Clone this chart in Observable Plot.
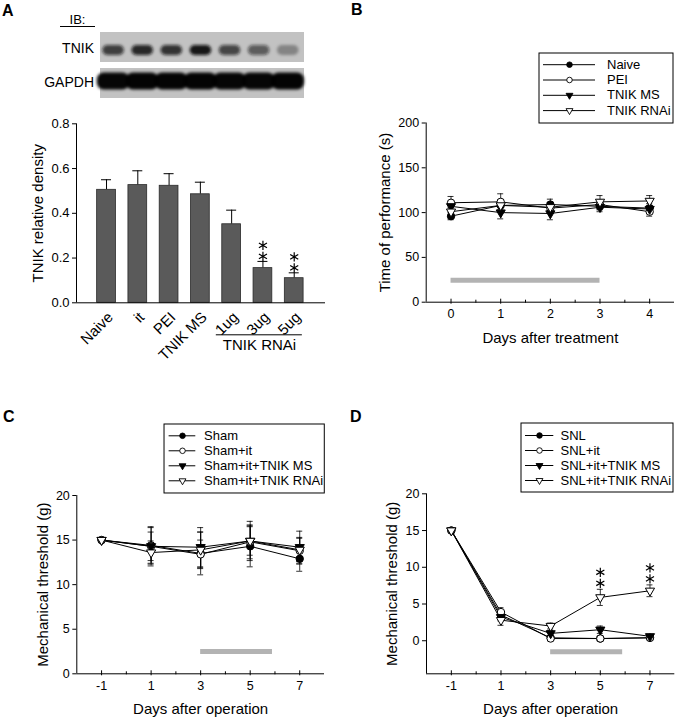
<!DOCTYPE html>
<html><head><meta charset="utf-8">
<script src="https://cdn.jsdelivr.net/npm/d3@7"></script>
<script src="https://cdn.jsdelivr.net/npm/@observablehq/plot@0.6"></script>
<style>
body{margin:0;background:#fff;font-family:Arial,"Liberation Sans",sans-serif;}
#fig{position:relative;width:680px;height:719px;overflow:hidden;background:#fff;}
#fig>svg{position:absolute;}
</style></head><body><div id="fig"></div>
<script>
// ---------- Panel A data ----------
const laneLabels = ["Naive","it","PEI","TNIK MS","1ug","3ug","5ug"];
const densityMean = [0.505,0.526,0.523,0.485,0.351,0.155,0.110];
const densityErr  = [0.045,0.064,0.054,0.054,0.063,0.030,0.024];
const densityStars = [0,0,0,0,0,2,2];
const tnikBand  = [0.74,0.86,0.80,0.95,0.70,0.58,0.32];
const gapdhBand = [0.97,0.98,0.98,0.98,0.97,0.97,0.98];
const yTicksA = [0,0.2,0.4,0.6,0.8];

// ---------- Panel B data ----------
const daysB = [0,1,2,3,4];
const namesB = ["Naive","PEI","TNIK MS","TNIK RNAi"];
const naiveB = [96,108,109,107,105];
const naiveBErr = [4,5,6,4,5];
const peiB = [111,112,105,109,101];
const peiBErr = [7,9,6,5,5];
const msB = [107,100,99,106,104];
const msBErr = [5,7,7,5,4];
const rnaiB = [101,108,106,112,113];
const rnaiBErr = [5,6,5,7,6];
const xTicksB = [0,1,2,3,4];
const yTicksB = [0,50,100,150,200];
const treatB = [0,3];

// ---------- Panel C data ----------
const daysCD = [-1,1,3,5,7];
const namesC = ["Sham","Sham+it","Sham+it+TNIK MS","Sham+it+TNIK RNAi"];
const shamC = [15,14.4,13.5,14.3,12.9];
const shamCErr = [0,2.0,2.4,2.3,1.4];
const shamItC = [15,14.3,13.4,14.8,13.8];
const shamItCErr = [0,1.6,1.6,1.9,1.5];
const msC = [15,14.3,14.2,14.9,14.2];
const msCErr = [0,2.2,2.2,2.2,1.8];
const rnaiC = [15,13.6,13.9,14.9,13.9];
const rnaiCErr = [0,1.3,2.0,1.6,1.3];
const xTicksCD = [-1,1,3,5,7];
const yTicksCD = [0,5,10,15,20];
const treatCD = [3,5.9];

// ---------- Panel D data ----------
const namesD = ["SNL","SNL+it","SNL+it+TNIK MS","SNL+it+TNIK RNAi"];
const snlD = [15,3.5,0.4,0.3,0.4];
const snlDErr = [0,0.5,0.3,0.3,0.2];
const snlItD = [15,3.9,0.3,0.3,0.4];
const snlItDErr = [0,0.6,0.3,0.3,0.2];
const msD = [15,3.2,1.0,1.5,0.6];
const msDErr = [0,0.5,0.4,0.5,0.2];
const rnaiD = [15,2.8,2.0,5.9,6.8];
const rnaiDErr = [0,0.7,0.4,1.1,0.8];

// ---------- helpers ----------
const fig = document.getElementById("fig");
const FONT = "Arial, 'Liberation Sans', sans-serif";
function place(node, left, top){ node.style.position="absolute"; node.style.left=left+"px"; node.style.top=top+"px"; fig.appendChild(node); }
const baseStyle = {fontFamily: FONT, fontSize: "12.5px", color: "black", background: "transparent", overflow: "visible"};
const markerStyles = [
  {symbol:"circle", fill:"black", r:3.7, rotate:0},
  {symbol:"circle", fill:"white", r:3.7, rotate:0},
  {symbol:"triangle", fill:"black", r:3.4, rotate:180},
  {symbol:"triangle", fill:"white", r:3.4, rotate:180}
];
const plain = d => String(d);

// ---------- Blot ----------
const lanes = laneLabels.map((n,i)=>({i, t: tnikBand[i], g: gapdhBand[i]}));
const blot = Plot.plot({
  width: 204, height: 66, margin: 0, style: baseStyle,
  x: {domain: [-0.45, 6.56], axis: null},
  y: {domain: [0, 66], range: [0, 66], axis: null},
  opacity: {type: "identity"},
  marks: [
    Plot.rect([0, 1], {x1: -0.45, x2: 6.56, y1: d => d === 0 ? 0 : 36, y2: d => d === 0 ? 30 : 66, fill: "#c2c2c2"}),
    Plot.rect(lanes, {x1: d => d.i - 0.37, x2: d => d.i + 0.37, y1: 13, y2: 23, rx: 5, fill: "#101010", fillOpacity: "t"}),
    Plot.rect(lanes, {x1: d => d.i - 0.56, x2: d => d.i + 0.56, y1: 40.5, y2: 57.5, rx: 7, fill: "#050505", fillOpacity: "g"})
  ]
});
{
  const s = d3.select(blot);
  s.append("defs").append("filter").attr("id","blotblur").attr("x","-20%").attr("y","-50%").attr("width","140%").attr("height","200%")
    .append("feGaussianBlur").attr("stdDeviation", 1.8);
  const groups = blot.querySelectorAll('g[aria-label="rect"]');
  if (groups[1]) groups[1].setAttribute("filter","url(#blotblur)");
  if (groups[2]) groups[2].setAttribute("filter","url(#blotblur)");
}
place(blot, 100, 32);

// ---------- Bar chart A ----------
const barRows = laneLabels.map((name,i)=>({i, name, v: densityMean[i], e: densityErr[i], s: densityStars[i]}));
const starRowsA = barRows.flatMap(d => d3.range(d.s).map(m => ({i: d.i, y: d.v + d.e, m})));
const barA = Plot.plot({
  width: 340, height: 250, marginLeft: 76, marginRight: 15, marginTop: 13.3, marginBottom: 57.7,
  style: baseStyle,
  x: {domain: [-0.96, 7.0], axis: null},
  y: {domain: [0, 0.8]},
  marks: [
    Plot.ruleX(barRows, {x: "i", y1: "v", y2: d => d.v + d.e, stroke: "black", strokeWidth: 1}),
    Plot.ruleY(barRows, {y: d => d.v + d.e, x1: "i", x2: "i", insetLeft: -5, insetRight: -5, stroke: "black", strokeWidth: 1}),
    Plot.rect(barRows, {x1: d => d.i - 0.3, x2: d => d.i + 0.3, y1: 0, y2: "v", fill: "#5a5a5a", stroke: "#2a2a2a", strokeWidth: 0.8}),
    Plot.axisY({ticks: yTicksA, tickFormat: d3.format(".1f"), tickSize: 4, tickPadding: 3, fontSize: 13, label: null}),
    Plot.ruleX([-0.96], {y1: 0, y2: 0.8, stroke: "black"}),
    Plot.ruleY([0], {stroke: "black"}),
    Plot.text(barRows, {x: "i", y: 0, text: "name", rotate: -45, textAnchor: "end", lineAnchor: "middle", dx: 4, dy: 12, fontSize: 15}),
    Plot.ruleY([0], {x1: 3.51, x2: 6.26, dy: 32, stroke: "black"}),
    Plot.text(["TNIK RNAi"], {x: 4.89, y: 0, dy: 42, fontSize: 15, lineAnchor: "middle"}),
    ...[0,1].map(m => Plot.dot(starRowsA.filter(d => d.m === m), {x: "i", y: "y", symbol: "asterisk", r: 4.4, stroke: "black", strokeWidth: 1.2, dy: -5 - 11 * m})),
    Plot.text(["TNIK relative density"], {frameAnchor: "left", rotate: -90, textAnchor: "middle", lineAnchor: "middle", dx: -38.5, fontSize: 15})
  ]
});
place(barA, 0, 110);

// ---------- Line panels ----------
function linePanel(cfg){
  const rows = [];
  cfg.series.forEach((vals, k) => vals.forEach((v, j) => rows.push({k, x: cfg.days[j], y: v, e: cfg.errs[k][j]})));
  const eb = rows.filter(d => d.e > 0);
  const [x0] = cfg.xDomain; const [y0] = cfg.yDomain;
  const yTop = cfg.yTicks[cfg.yTicks.length - 1];
  const stars = (cfg.stars || []).flatMap(s => {
    const r = rows.find(d => d.k === s.k && d.x === s.x);
    return d3.range(s.n).map(m => ({x: s.x, y: r.y + r.e, m}));
  });
  const marks = [
    Plot.ruleY([cfg.bar.y], {x1: cfg.bar.x1, x2: cfg.bar.x2, stroke: "#b3b3b3", strokeWidth: 5}),
    Plot.ruleX([x0], {y1: y0, y2: yTop, stroke: "black"}),
    Plot.ruleY([y0], {stroke: "black"}),
    Plot.ruleX(cfg.xTicks, {y1: y0, y2: y0, insetTop: -3, insetBottom: -2, stroke: "black"}),
    Plot.ruleX(cfg.xMinor, {y1: y0, y2: y0, insetTop: -2, insetBottom: -1, stroke: "black"}),
    Plot.axisX({ticks: cfg.xTicks, tickFormat: plain, tickSize: 0, tickPadding: 7, fontSize: 12.5, label: null}),
    Plot.axisY({ticks: cfg.yTicks, tickFormat: plain, tickSize: 4, tickPadding: 3, fontSize: 12.5, label: null}),
    Plot.ruleX(eb, {x: "x", y1: d => d.y - d.e, y2: d => d.y + d.e, stroke: "black", strokeWidth: 0.8}),
    Plot.ruleY(eb, {y: d => d.y + d.e, x1: "x", x2: "x", insetLeft: -3, insetRight: -3, stroke: "black", strokeWidth: 0.8}),
    Plot.ruleY(eb, {y: d => d.y - d.e, x1: "x", x2: "x", insetLeft: -3, insetRight: -3, stroke: "black", strokeWidth: 0.8}),
    Plot.line(rows, {x: "x", y: "y", z: "k", stroke: "black", strokeWidth: 1}),
    ...markerStyles.map((st, k) => Plot.dot(rows.filter(d => d.k === k), {x: "x", y: "y", symbol: st.symbol, r: st.r, rotate: st.rotate, fill: st.fill, stroke: "black", strokeWidth: 1})),
    ...[0,1].map(m => Plot.dot(stars.filter(d => d.m === m), {x: "x", y: "y", symbol: "asterisk", r: 4.4, stroke: "black", strokeWidth: 1.2, dy: -6 - 11 * m})),
    Plot.text([cfg.xTitle], {frameAnchor: "bottom", lineAnchor: "middle", dy: 35.5, fontSize: 15}),
    Plot.text([cfg.yTitle], {frameAnchor: "left", rotate: -90, textAnchor: "middle", lineAnchor: "middle", dx: cfg.yTitleDx, fontSize: 15})
  ];
  const p = Plot.plot({
    width: cfg.width, height: cfg.height,
    marginLeft: cfg.mL, marginRight: cfg.mR, marginTop: cfg.mT, marginBottom: cfg.mB,
    style: baseStyle,
    x: {domain: cfg.xDomain},
    y: {domain: cfg.yDomain},
    marks
  });
  place(p, cfg.left, cfg.top);
}

function legendBox(cfg){
  const rows = cfg.names.map((n, k) => ({n, k, y: cfg.row0 + k * cfg.step}));
  const p = Plot.plot({
    width: cfg.width, height: cfg.height, margin: 0, style: baseStyle,
    x: {domain: [0, cfg.width], range: [0, cfg.width], axis: null},
    y: {domain: [0, cfg.height], range: [0, cfg.height], axis: null},
    marks: [
      Plot.frame({stroke: "black", strokeWidth: 1, inset: 0.5}),
      Plot.ruleY(rows, {y: "y", x1: cfg.lx1, x2: cfg.lx2, stroke: "black", strokeWidth: 1}),
      ...markerStyles.map((st, k) => Plot.dot(rows.filter(d => d.k === k), {x: cfg.mx, y: "y", symbol: st.symbol, r: st.r * 0.75, rotate: st.rotate, fill: st.fill, stroke: "black", strokeWidth: 0.9})),
      Plot.text(rows, {x: cfg.tx, y: "y", text: "n", textAnchor: "start", lineAnchor: "middle", fontSize: 13})
    ]
  });
  place(p, cfg.left, cfg.top);
}

linePanel({
  left: 340, top: 110, width: 340, height: 250, mL: 85.7, mR: 6, mT: 12.5, mB: 58.3,
  xDomain: [-0.5, 4.5], yDomain: [0, 200], xTicks: xTicksB, xMinor: [0.5,1.5,2.5,3.5], yTicks: yTicksB,
  days: daysB, series: [naiveB, peiB, msB, rnaiB], errs: [naiveBErr, peiBErr, msBErr, rnaiBErr],
  bar: {y: 24.5, x1: treatB[0], x2: treatB[1]},
  xTitle: "Days after treatment", yTitle: "Time of performance (s)", yTitleDx: -40.7
});
legendBox({left: 538, top: 52, width: 135, height: 71, names: namesB, row0: 12.2, step: 15.3, lx1: 5, lx2: 57, mx: 31, tx: 68.5});

linePanel({
  left: 0, top: 485, width: 340, height: 234, mL: 76.3, mR: 16, mT: 10, mB: 45.7,
  xDomain: [-2, 8], yDomain: [0, 20], xTicks: xTicksCD, xMinor: [0,2,4,6], yTicks: yTicksCD,
  days: daysCD, series: [shamC, shamItC, msC, rnaiC], errs: [shamCErr, shamItCErr, msCErr, rnaiCErr],
  bar: {y: 2.5, x1: treatCD[0], x2: treatCD[1]},
  xTitle: "Days after operation", yTitle: "Mechanical threshold (g)", yTitleDx: -33.8
});
legendBox({left: 162.7, top: 422.7, width: 161.3, height: 70, names: namesC, row0: 12.3, step: 15, lx1: 5.6, lx2: 32.3, mx: 19, tx: 40.6});

linePanel({
  left: 340, top: 485, width: 340, height: 234, mL: 86, mR: 5.7, mT: 8.3, mB: 45.7,
  xDomain: [-2, 8], yDomain: [-4.5, 20], xTicks: xTicksCD, xMinor: [0,2,4,6], yTicks: yTicksCD,
  days: daysCD, series: [snlD, snlItD, msD, rnaiD], errs: [snlDErr, snlItDErr, msDErr, rnaiDErr],
  bar: {y: -1.5, x1: treatCD[0], x2: treatCD[1]},
  stars: [{k: 3, x: 5, n: 2}, {k: 3, x: 7, n: 2}],
  xTitle: "Days after operation", yTitle: "Mechanical threshold (g)", yTitleDx: -34.3
});
legendBox({left: 520, top: 422, width: 153, height: 70, names: namesD, row0: 13, step: 15, lx1: 5, lx2: 33.3, mx: 19, tx: 40});

// ---------- panel letters and blot labels ----------
const ov = d3.create("svg").attr("width", 680).attr("height", 719)
  .style("font-family", FONT).style("pointer-events", "none");
[["A", 2, 15.5], ["B", 351, 15], ["C", 3, 421.7], ["D", 350, 421.7]].forEach(([t, x, y]) =>
  ov.append("text").attr("x", x).attr("y", y).attr("font-size", 16).attr("font-weight", "bold").text(t));
ov.append("text").attr("x", 77.5).attr("y", 24).attr("text-anchor", "middle").attr("font-size", 13).text("IB:");
ov.append("line").attr("x1", 60).attr("x2", 95).attr("y1", 26.5).attr("y2", 26.5).attr("stroke", "black");
ov.append("text").attr("x", 94).attr("y", 53).attr("text-anchor", "end").attr("font-size", 14).text("TNIK");
ov.append("text").attr("x", 94).attr("y", 87).attr("text-anchor", "end").attr("font-size", 14).text("GAPDH");
place(ov.node(), 0, 0);
</script>
</body></html>
